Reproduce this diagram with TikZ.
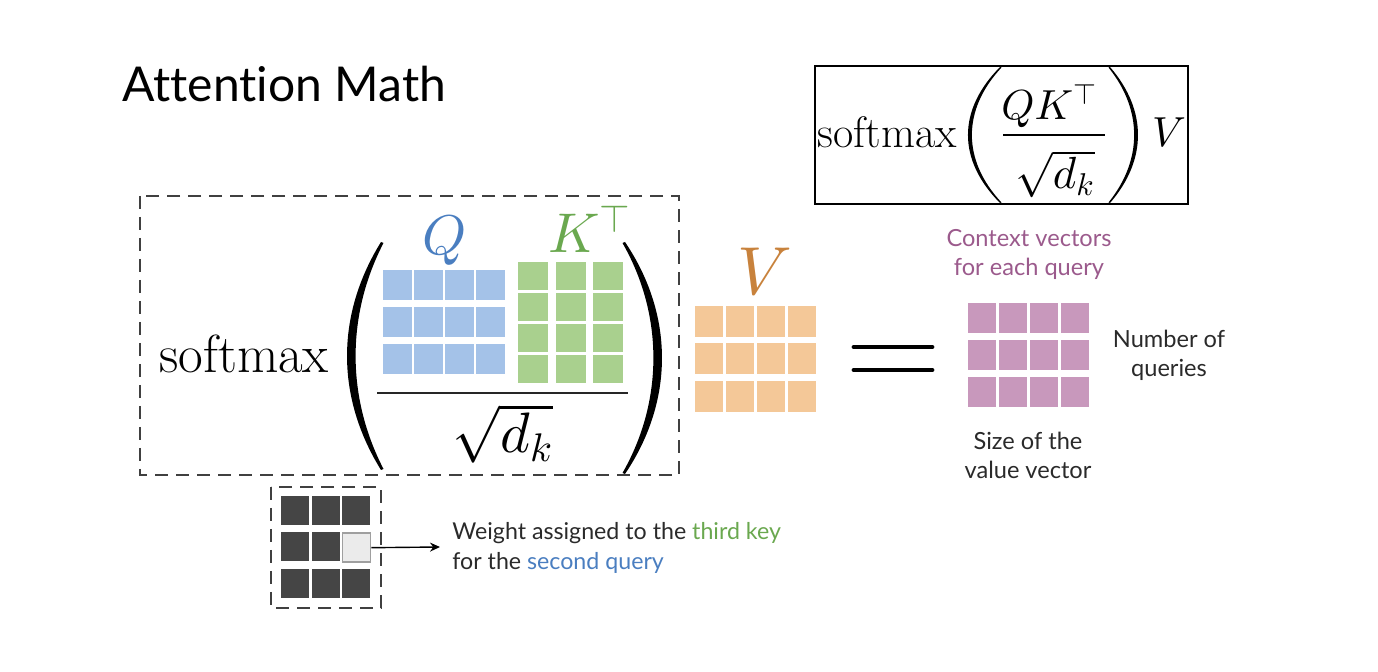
\documentclass[tikz,border=0pt]{standalone}
\usepackage[no-math]{fontspec}
\newfontfamily\lato[Ligatures={NoCommon}]{Lato}
\DeclareFontShape{OML}{cmm}{m}{it}{<->cmmi10}{\skewchar\font=127}
\DeclareFontShape{OMS}{cmsy}{m}{n}{<->cmsy10}{\skewchar\font=48}
\DeclareFontShape{OMX}{cmex}{m}{n}{<->cmex10}{}
\DeclareFontShape{OT1}{cmr}{m}{n}{<->cmr10}{}
\usetikzlibrary{arrows.meta}
\definecolor{qfill}{HTML}{A4C2E8}
\definecolor{kfill}{HTML}{A9D08E}
\definecolor{vfill}{HTML}{F4C898}
\definecolor{cfill}{HTML}{C898BC}
\definecolor{dfill}{HTML}{454545}
\definecolor{qtext}{HTML}{4A7EC0}
\definecolor{ktext}{HTML}{6AA84F}
\definecolor{vtext}{HTML}{C8823C}
\definecolor{ctext}{HTML}{9B5A8C}
\definecolor{labtext}{HTML}{2A2A2A}
\definecolor{dashgray}{HTML}{404040}
\newcommand\drawgrid[9]{%
  \foreach \i in {1,...,#4}{\foreach \j in {1,...,#5}{%
    \fill[#1] ({#2+(\i-1)*#8},{#3+(\j-1)*#9}) rectangle ++(#6,#7);}}}
\tikzset{
  dbox/.style={draw=dashgray, line width=1.4pt, dash pattern=on 6.5pt off 4pt},
  lab/.style={font=\lato\fontsize{11.8}{14.5}\selectfont, inner sep=0pt, align=center},
  bigmath/.style={inner sep=0pt, font=\fontsize{28}{32}\selectfont},
  parenfill/.style={fill=black},
}
\begin{document}
\begin{tikzpicture}[x=0.5pt,y=-0.5pt]
\useasboundingbox (0,0) rectangle (1378,672);

% title
\node[font=\lato\fontsize{24}{28}\selectfont, anchor=base west, inner sep=0pt, text=black] (title) at (122,102) {Attention Math};

% main dashed box
\draw[dbox] (140,196) rectangle (679,475);

% softmax
\node[font=\fontsize{26.8}{30}\selectfont, anchor=base west, inner sep=0pt] (smx) at (159,373) {softmax};

% big parentheses
\fill[parenfill] (381,242) .. controls (335.7,315) and (335.7,397) .. (381,470)
  -- (383.5,469) .. controls (346.3,397) and (346.3,315) .. (383.5,243) -- cycle;
\fill[parenfill] (625,242) .. controls (674.3,315) and (674.3,401) .. (625,474)
  -- (622.5,473) .. controls (663.7,401) and (663.7,315) .. (622.5,243) -- cycle;

% Q and K^T labels
\node[bigmath, text=qtext, anchor=base] (qlab) at (445,255) {$Q$};
\node[bigmath, text=ktext, anchor=base west] (klab) at (548,253) {$K^{\top}$};

% matrices
\drawgrid{qfill}{383}{270}{4}{3}{28.5}{30}{31}{37}
\drawgrid{kfill}{518}{262}{3}{4}{30}{28}{37.5}{31}

% fraction line and denominator
\draw[line width=1pt, draw=black!85] (377,393) -- (628,393);
\node[inner sep=0pt, font=\fontsize{28.5}{32}\selectfont, anchor=base] (sqd) at (503,453) {$\sqrt{d_k}$};

% V
\node[inner sep=0pt, font=\fontsize{34}{38}\selectfont, text=vtext, anchor=base] (vlab) at (765,295) {$V$};
\drawgrid{vfill}{695}{306}{4}{3}{28}{31}{31}{37.5}

% equals
\draw[line width=2.4pt, line cap=round] (854,347) -- (932,347);
\draw[line width=2.4pt, line cap=round] (854,370) -- (932,370);

% context matrix
\drawgrid{cfill}{968}{303}{4}{3}{28}{30}{31}{37}
\node[lab, text=ctext] (ctx) at (1029,254) {Context vectors\\for each query};
\node[lab, text=labtext] (nq) at (1169,355) {Number of\\queries};
\node[lab, text=labtext] (sv) at (1028,455) {Size of the\\value vector};

% formula box
\draw[line width=1pt] (815,66) rectangle (1188,204);
\node[font=\fontsize{22}{26}\selectfont, anchor=base west, inner sep=0pt] (smx2) at (817,148) {softmax};
\fill[parenfill] (1000,67) .. controls (957.3,110) and (957.3,160) .. (1000,203)
  -- (1001.5,202.5) .. controls (962,160) and (962,110) .. (1001.5,67.5) -- cycle;
\fill[parenfill] (1110,67) .. controls (1147.3,110) and (1147.3,160) .. (1110,203)
  -- (1108.5,202.5) .. controls (1142.7,160) and (1142.7,110) .. (1108.5,67.5) -- cycle;
\node[font=\fontsize{21}{25}\selectfont, anchor=base west, inner sep=0pt] (num) at (1001,120) {$QK^{\top}$};
\draw[line width=0.8pt] (1003,135) -- (1105,135);
\node[font=\fontsize{22.5}{26}\selectfont, anchor=base, inner sep=0pt] (den) at (1055,189) {$\sqrt{d_k}$};
\node[font=\fontsize{21}{25}\selectfont, anchor=base, inner sep=0pt] (v2) at (1169,147) {$V$};

% small attention matrix
\draw[dbox] (271,487) rectangle (381,608);
\drawgrid{dfill}{281}{496}{3}{3}{28}{29}{30.5}{36.5}
\node[draw=gray!75, fill=black!8, line width=0.7pt, inner sep=0pt, minimum width=14pt, minimum height=14.5pt, anchor=north west] (hl) at (342,532.5) {};
\coordinate (aend) at (440,547);
\draw[-{Stealth[length=5pt,width=4.5pt]}, line width=0.7pt] (hl.east) -- (aend);
\node[lab, align=left, anchor=west, text=labtext, font=\lato\fontsize{11.6}{15}\selectfont] (wlab) at (452,548) {Weight assigned to the \textcolor{ktext}{third key}\\for the \textcolor{qtext}{second query}};
\end{tikzpicture}
\end{document}
